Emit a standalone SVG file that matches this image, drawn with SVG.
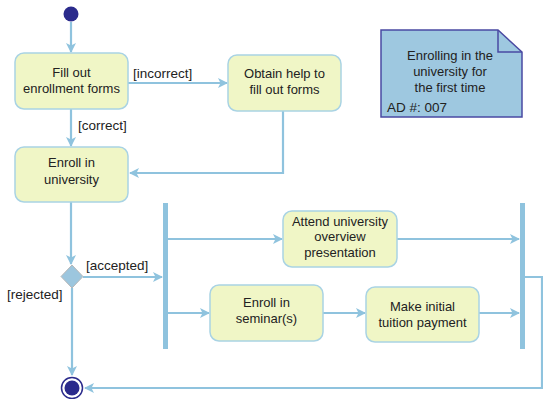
<svg xmlns="http://www.w3.org/2000/svg" width="543" height="399" viewBox="0 0 543 399">
<defs>
<marker id="arr" markerWidth="10" markerHeight="10" refX="9" refY="5" orient="auto" markerUnits="userSpaceOnUse">
<path d="M0,0 L10,5 L0,10 L2.5,5 Z" fill="#8fc3de"/>
</marker>
<style>
.act{fill:#f0f6c6;stroke:#a9d3e4;stroke-width:1.5}
.t{font-family:"Liberation Sans",Arial,sans-serif;font-size:13px;fill:#222222;text-anchor:middle}
.g{font-family:"Liberation Sans",Arial,sans-serif;font-size:13.5px;fill:#222222}
.c{fill:none;stroke:#8fc3de;stroke-width:2.2}
.bar{fill:#8fc3de}
</style>
</defs>
<rect width="543" height="399" fill="#ffffff"/>
<g id="connectors">
<line class="c" x1="71" y1="22" x2="71" y2="52" marker-end="url(#arr)"/>
<line class="c" x1="128" y1="83" x2="227" y2="83" marker-end="url(#arr)"/>
<line class="c" x1="71" y1="109" x2="71" y2="146" marker-end="url(#arr)"/>
<polyline class="c" points="283,111 283,173 130,173" marker-end="url(#arr)"/>
<line class="c" x1="71" y1="202" x2="71" y2="264" marker-end="url(#arr)"/>
<line class="c" x1="83" y1="277" x2="162" y2="277" marker-end="url(#arr)"/>
<line class="c" x1="72" y1="288" x2="72" y2="375" marker-end="url(#arr)"/>
<line class="c" x1="168" y1="239" x2="282" y2="239" marker-end="url(#arr)"/>
<line class="c" x1="168" y1="313" x2="209" y2="313" marker-end="url(#arr)"/>
<line class="c" x1="323" y1="313" x2="365" y2="313" marker-end="url(#arr)"/>
<line class="c" x1="397" y1="239" x2="519" y2="239" marker-end="url(#arr)"/>
<line class="c" x1="479" y1="313" x2="519" y2="313" marker-end="url(#arr)"/>
<polyline class="c" points="525,277 542,277 542,388 85,388" marker-end="url(#arr)" stroke-width="2"/>
</g>
<g id="start"><circle cx="71" cy="14" r="7.5" fill="#2b2b8c"/></g>
<g id="fill-out">
<rect class="act" x="15" y="53" width="113" height="56" rx="9"/>
<text class="t" x="71.5" y="77">Fill out</text>
<text class="t" x="71.5" y="93">enrollment forms</text>
</g>
<g id="obtain-help">
<rect class="act" x="228" y="55" width="113" height="56" rx="9"/>
<text class="t" x="284.5" y="78">Obtain help to</text>
<text class="t" x="284.5" y="94">fill out forms</text>
</g>
<g id="enroll-university">
<rect class="act" x="15" y="147" width="113" height="55" rx="9"/>
<text class="t" x="71.5" y="167">Enroll in</text>
<text class="t" x="71.5" y="184">university</text>
</g>
<g id="decision">
<polygon points="72,265 83,276.5 72,288 61,276.5" fill="#9cc6de" stroke="#b8b8b8" stroke-width="1"/>
</g>
<g id="fork"><rect class="bar" x="163" y="203" width="5" height="146"/></g>
<g id="attend">
<rect class="act" x="283" y="211" width="114" height="56" rx="9"/>
<text class="t" x="340" y="226">Attend university</text>
<text class="t" x="340" y="241">overview</text>
<text class="t" x="340" y="257">presentation</text>
</g>
<g id="enroll-seminar">
<rect class="act" x="210" y="285" width="113" height="56" rx="9"/>
<text class="t" x="266.5" y="307">Enroll in</text>
<text class="t" x="266.5" y="323">seminar(s)</text>
</g>
<g id="payment">
<rect class="act" x="366" y="287" width="113" height="55" rx="9"/>
<text class="t" x="422.5" y="311">Make initial</text>
<text class="t" x="422.5" y="327">tuition payment</text>
</g>
<g id="join"><rect class="bar" x="520" y="203" width="5" height="146"/></g>
<g id="end">
<circle cx="72" cy="388" r="10.5" fill="#ffffff" stroke="#2b2b8c" stroke-width="1.5"/>
<circle cx="72" cy="388" r="7.5" fill="#2b2b8c"/>
</g>
<g id="note">
<path d="M381,30 L498,30 L522,52 L522,117 L381,117 Z" fill="#9ec8e0" stroke="#4a4aa2" stroke-width="1.5"/>
<path d="M498,30 L498,52 L522,52" fill="none" stroke="#4a4aa2" stroke-width="1.5"/>
<text class="t" x="450" y="60">Enrolling in the</text>
<text class="t" x="450" y="76">university for</text>
<text class="t" x="450" y="92">the first time</text>
<text class="g" x="387" y="112">AD #: 007</text>
</g>
<g id="labels">
<text class="g" x="133" y="78">[incorrect]</text>
<text class="g" x="78" y="130">[correct]</text>
<text class="g" x="86" y="270">[accepted]</text>
<text class="g" x="7" y="299">[rejected]</text>
</g>
</svg>
